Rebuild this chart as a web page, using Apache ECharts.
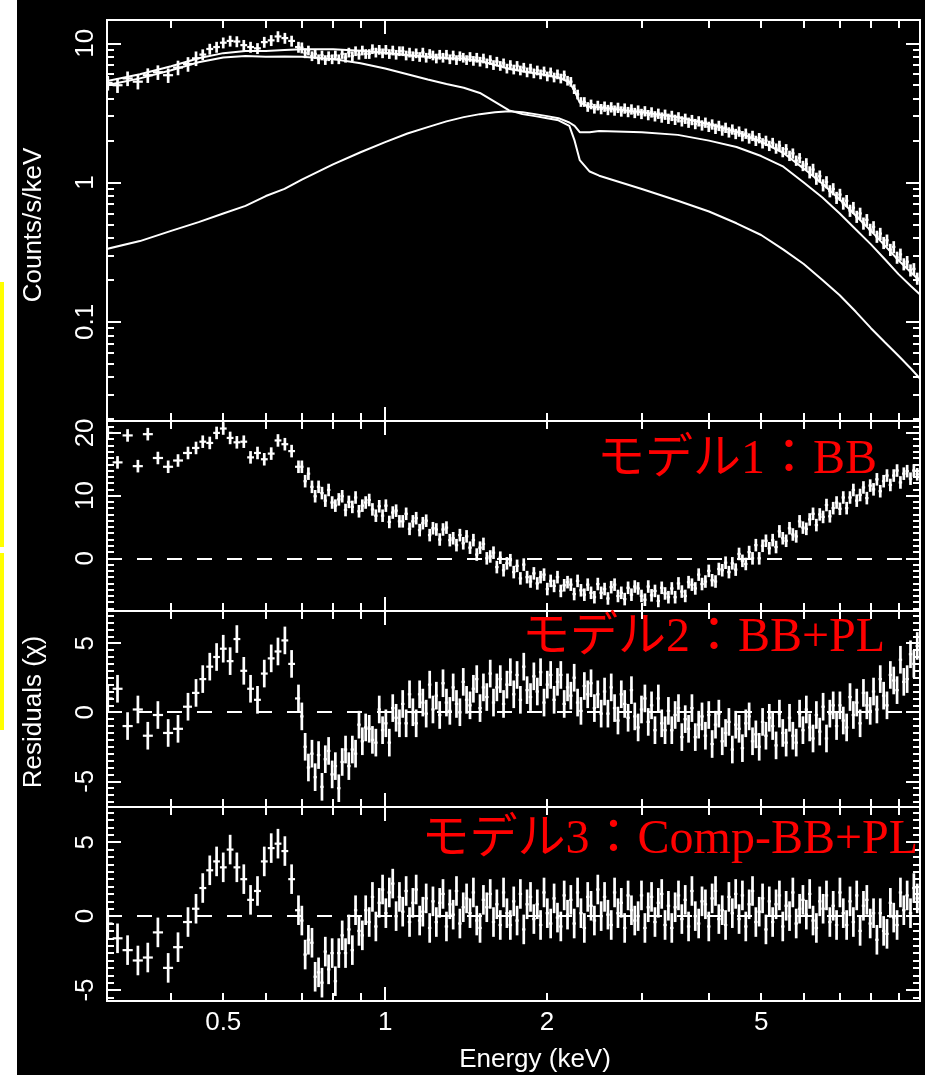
<!DOCTYPE html>
<html>
<head>
<meta charset="utf-8">
<script src="https://cdn.jsdelivr.net/npm/echarts@6/dist/echarts.min.js"></script>
<style>
  html, body { margin: 0; padding: 0; background: #000; }
  #chart { width: 925px; height: 1075px; }
</style>
</head>
<body>
<div id="chart"></div>
<script>
// Spectral bins (keV) shared by the spectrum and the three residual panels
const energy = [
  0.305, 0.318, 0.332, 0.347, 0.362, 0.378, 0.395, 0.412, 0.430, 0.445,
  0.458, 0.472, 0.486, 0.500, 0.515, 0.530, 0.546, 0.562, 0.579, 0.596,
  0.614, 0.632, 0.651, 0.670, 0.690,
  0.700, 0.710, 0.720, 0.731, 0.741, 0.752, 0.763, 0.774, 0.785, 0.797,
  0.808, 0.820, 0.832, 0.844, 0.856, 0.869, 0.881, 0.894, 0.907, 0.920,
  0.934, 0.947, 0.961, 0.975, 0.989, 1.003, 1.018, 1.033, 1.048, 1.063,
  1.078, 1.094, 1.110, 1.126, 1.142, 1.159, 1.175, 1.192, 1.210, 1.227,
  1.245, 1.263, 1.281, 1.300, 1.319, 1.338, 1.357, 1.377, 1.397, 1.417,
  1.438, 1.459, 1.480, 1.501, 1.523, 1.545, 1.568, 1.590, 1.613, 1.637,
  1.660, 1.684, 1.709, 1.734, 1.759, 1.784, 1.810, 1.836, 1.863, 1.890,
  1.918, 1.945, 1.974, 2.002, 2.031, 2.061, 2.091, 2.121, 2.152, 2.183,
  2.214, 2.246, 2.279, 2.312, 2.346, 2.380, 2.414, 2.449, 2.485, 2.521,
  2.558, 2.595, 2.632, 2.670, 2.709, 2.748, 2.788, 2.829, 2.870, 2.911,
  2.953, 2.996, 3.040, 3.084, 3.128, 3.174, 3.220, 3.267, 3.314, 3.362,
  3.411, 3.460, 3.510, 3.561, 3.613, 3.665, 3.718, 3.772, 3.827, 3.882,
  3.939, 3.996, 4.054, 4.113, 4.172, 4.233, 4.294, 4.356, 4.420, 4.484,
  4.549, 4.615, 4.682, 4.750, 4.819, 4.888, 4.959, 5.031, 5.104, 5.178,
  5.253, 5.330, 5.407, 5.485, 5.565, 5.646, 5.727, 5.810, 5.895, 5.980,
  6.067, 6.155, 6.244, 6.334, 6.426, 6.519, 6.614, 6.710, 6.807, 6.906,
  7.006, 7.107, 7.210, 7.315, 7.421, 7.528, 7.638, 7.748, 7.861, 7.975,
  8.090, 8.207, 8.326, 8.447, 8.569, 8.694, 8.820, 8.947, 9.077, 9.209,
  9.342, 9.477, 9.615, 9.754
];

// Observed count rate (counts/s/keV)
const counts = [
  5.2, 5.0, 5.6, 5.3, 5.9, 6.2, 5.9, 6.7, 7.1, 7.8,
  8.3, 9.1, 9.4, 10.1, 10.4, 10.3, 9.7, 9.4, 9.2, 10.2,
  10.5, 11.2, 10.9, 10.4, 9.4,
  9.3, 8.5, 8.9, 8.1, 8.4, 7.7, 8.2, 7.6, 8.1, 7.7,
  8.2, 7.7, 8.4, 7.9, 8.6, 8.1, 8.8, 8.3, 8.9, 8.4,
  8.4, 9.1, 8.6, 9.0, 8.5, 9.0, 8.4, 8.9, 8.3, 8.8,
  8.8, 8.2, 8.6, 8.1, 8.5, 8.0, 8.6, 7.9, 8.4, 8.2,
  7.8, 8.3, 7.9, 8.3, 7.7, 8.2, 7.6, 8.1, 7.9, 7.6,
  8.0, 7.5, 7.9, 7.4, 7.8, 7.2, 7.6, 7.0, 7.4, 6.9,
  7.2, 6.6, 7.0, 6.5, 6.9, 6.4, 6.7, 6.2, 6.6, 6.1,
  6.4, 6.0, 6.3, 5.8, 6.2, 5.7, 6.0, 5.6, 5.9, 5.4,
  5.3, 4.7, 4.3, 3.8, 3.8, 3.5, 3.65, 3.4, 3.58, 3.38,
  3.52, 3.33, 3.48, 3.30, 3.45, 3.25, 3.41, 3.22, 3.36, 3.17,
  3.30, 3.12, 3.26, 3.06, 3.20, 3.00, 3.13, 2.94, 3.08, 2.88,
  3.02, 2.83, 2.95, 2.76, 2.88, 2.70, 2.82, 2.64, 2.76, 2.58,
  2.70, 2.52, 2.62, 2.44, 2.56, 2.37, 2.48, 2.30, 2.41, 2.24,
  2.33, 2.16, 2.25, 2.08, 2.17, 2.00, 2.09, 1.92, 2.00, 1.84,
  1.93, 1.76, 1.84, 1.66, 1.74, 1.56, 1.62, 1.44, 1.50, 1.32,
  1.36, 1.19, 1.24, 1.07, 1.11, 0.96, 1.01, 0.87, 0.90, 0.78,
  0.82, 0.71, 0.74, 0.63, 0.66, 0.57, 0.60, 0.51, 0.54, 0.46,
  0.48, 0.41, 0.43, 0.37, 0.385, 0.33, 0.345, 0.29, 0.305, 0.26,
  0.27, 0.235, 0.24, 0.205
];
// Relative 1-sigma error of the count rate, by energy band [upper edge keV, fraction]
const countsErrBands = [[0.45, 0.12], [0.70, 0.09], [2.5, 0.08], [6.0, 0.085], [10.0, 0.10]];

// Residuals (chi) for the three fitted models
const residBB = [
  20.0, 15.3, 19.6, 14.7, 19.8, 16.0, 14.6, 15.6, 16.8, 17.6,
  18.6, 18.4, 20.0, 20.7, 19.2, 18.5, 18.6, 16.1, 16.8, 15.8,
  16.7, 18.8, 18.2, 17.1, 14.6,
  14.6, 12.3, 13.5, 11.4, 9.9, 11.4, 10.4, 9.2, 10.9, 8.9,
  8.4, 9.4, 9.9, 7.7, 9.0, 8.2, 9.7, 7.5, 8.4, 8.9,
  9.3, 7.8, 6.8, 8.3, 6.8, 8.4, 5.8, 7.3, 7.6, 5.9,
  5.9, 7.1, 4.7, 5.9, 6.4, 4.5, 5.6, 6.0, 3.7, 4.8,
  4.6, 3.0, 4.6, 4.9, 2.9, 3.2, 2.1, 3.7, 2.4, 3.5,
  1.7, 2.9, 0.6, 1.7, 2.3, 0.0, 0.3, 0.9, -1.4, 0.1,
  -1.9, -0.8, -0.3, -2.2, -1.2, -3.2, -1.0, -3.0, -3.7, -2.4,
  -4.0, -3.0, -2.6, -4.9, -3.6, -4.4, -3.0, -5.2, -4.3, -3.8,
  -4.2, -5.7, -3.6, -5.1, -5.8, -4.2, -5.5, -6.2, -4.1, -5.5,
  -4.9, -6.4, -4.6, -4.2, -6.0, -5.5, -6.5, -4.7, -5.8, -4.5,
  -4.8, -6.0, -6.6, -4.5, -5.9, -5.2, -6.8, -4.7, -5.6, -6.2,
  -4.8, -6.2, -4.0, -5.3, -6.0, -3.8, -4.2, -4.8, -2.6, -4.1,
  -3.7, -2.0, -3.5, -3.7, -1.7, -1.9, -0.7, -2.2, -0.8, -1.8,
  0.7, -0.4, -0.9, 1.0, 0.0, 2.1, 0.0, 2.0, 2.8, 1.6,
  2.9, 1.8, 4.3, 3.2, 2.8, 4.8, 3.8, 3.5, 5.9, 4.9,
  4.7, 6.2, 7.1, 5.3, 7.0, 6.6, 8.5, 6.7, 8.0, 8.9,
  7.9, 9.7, 8.0, 9.7, 10.9, 9.2, 10.1, 11.3, 9.6, 11.6,
  11.0, 12.6, 10.7, 12.3, 13.2, 11.7, 13.2, 14.0, 12.1, 13.5,
  13.9, 12.7, 14.0, 13.4
];
const residBBPL = [
  1.0, 1.7, -1.0, 0.2, -1.7, -0.2, -1.5, -1.2, 0.4, 1.4,
  2.4, 3.3, 4.0, 4.6, 3.7, 5.3, 3.0, 1.7, 0.9, 2.8,
  3.9, 4.4, 5.2, 3.5, 1.0,
  -0.3, -2.5, -4.0, -3.0, -4.7, -3.1, -5.4, -3.4, -2.8, -4.5,
  -3.9, -5.5, -3.6, -2.7, -3.9, -2.7, -3.0, -0.9, -2.1, -1.1,
  -1.2, -2.0, -2.2, 0.2, -1.3, -0.8, -2.2, 0.3, -0.4, -0.8,
  0.6, -0.8, 1.3, 0.0, -0.8, 1.3, 0.7, -0.1, 2.0, 0.2,
  1.2, -0.2, 2.1, 0.7, 0.1, 1.8, 0.6, 0.0, 2.2, 0.9,
  0.5, 1.7, 2.4, 0.3, 1.8, 1.1, 2.8, 0.7, 1.8, 2.4,
  0.6, 2.0, 2.9, 1.3, 2.7, 0.9, 3.3, 1.6, 1.1, 2.6,
  1.5, 2.9, 0.7, 2.0, 2.7, 0.9, 2.2, 2.7, 0.6, 1.8,
  1.2, 2.5, 0.7, 0.1, 1.9, 1.3, 2.1, 0.3, 1.3, -0.1,
  1.5, -0.1, 1.8, 0.3, -0.6, 1.3, 0.6, -0.4, 1.6, -0.3,
  -1.1, 0.2, 1.0, -0.7, 0.5, -1.3, 1.0, -0.8, -1.3, 0.1,
  -1.3, -0.2, 0.3, -1.8, -0.5, -1.2, 0.3, -1.8, -0.9, -0.3,
  -1.7, -0.2, -2.3, -0.9, -0.1, -2.1, -1.5, -0.7, -2.7, -0.9,
  -1.2, -2.6, -0.8, -0.3, -2.1, -1.6, -2.5, -0.7, -1.7, -0.4,
  -1.0, -2.4, -0.1, -1.5, -2.2, -0.4, -1.7, -2.2, -0.1, -1.3,
  0.2, -1.1, -1.9, -0.2, -1.4, 0.4, -1.9, -0.1, 0.5, -1.0,
  0.5, -0.6, -1.1, 1.1, -0.2, 0.7, -0.8, 1.4, 0.5, 0.1,
  1.5, 0.2, 2.4, 1.2, 0.5, 2.7, 2.3, 1.6, 3.8, 2.2,
  2.4, 4.2, 3.5, 4.8
];
const residCompBBPL = [
  -0.5, -1.5, -2.3, -3.0, -2.8, -1.1, -3.5, -2.1, -0.4, 0.5,
  1.9, 3.1, 3.7, 3.3, 4.5, 3.3, 2.5, 1.1, 1.7, 3.7,
  4.6, 4.9, 4.4, 2.5, 0.4,
  -0.3, -2.6, -1.6, -1.8, -4.1, -3.8, -4.5, -2.4, -3.6, -2.5,
  -4.4, -2.5, -1.3, -2.5, -0.9, -2.3, 0.4, -1.0, -1.3, 0.4,
  -0.4, 1.3, -0.7, 0.9, 1.8, 0.2, 1.6, 2.2, 0.0, 1.3,
  0.3, 1.7, -0.4, 0.9, 1.8, -0.3, 0.3, 1.2, -0.8, 1.0,
  -0.4, 0.9, 1.5, -0.7, 0.8, 0.1, 1.7, -0.5, 0.6, 1.2,
  0.2, 1.6, -0.3, -0.8, 1.1, 0.6, 1.5, -0.4, 0.8, -0.6,
  1.6, 0.2, -0.6, 1.0, -0.3, 1.5, -0.9, 0.8, 1.3, -0.2,
  0.8, -0.6, 1.6, 0.2, -0.5, 1.2, -0.1, -0.7, 1.4, 0.1,
  1.1, -0.5, 1.6, 0.2, -0.8, 1.3, 0.7, -0.3, 1.8, 0.0,
  1.3, 0.1, -0.6, 1.6, 0.2, 0.9, -0.8, 1.4, 0.4, -0.3,
  0.0, 1.4, -0.8, 0.6, 1.3, -0.4, 0.9, 1.5, -0.6, 0.7,
  -0.8, 0.6, 1.4, -0.2, 1.1, -0.7, 1.7, 0.0, -0.5, 1.0,
  0.8, -0.7, 1.2, 1.7, -0.2, 0.4, -0.6, 1.3, 0.2, 1.5,
  -0.2, 1.4, -0.7, 0.8, 1.7, -0.4, 0.3, 1.2, -0.9, 1.0,
  -0.4, 0.8, 1.4, -0.7, 0.7, 0.0, 1.6, -0.5, 0.5, 1.1,
  0.1, 1.5, -0.3, -0.8, 1.0, 0.5, 1.4, -0.4, 0.7, -0.6,
  1.6, 0.2, -0.6, 1.0, -0.4, 1.4, -1.0, 0.7, 1.1, -0.5,
  0.2, -1.6, 0.2, -1.0, -1.2, 0.9, -0.1, -0.6, 1.6, 0.4,
  1.4, 0.2, 1.9, 1.2
];

// Folded model curves (counts/s/keV): total and the two components
const modelEnergy = [
  0.3, 0.35, 0.4, 0.45, 0.5, 0.55, 0.6, 0.65, 0.7, 0.8,
  0.9, 1.0, 1.1, 1.2, 1.3, 1.4, 1.5, 1.6, 1.7, 1.8,
  1.9, 2.0, 2.1, 2.2, 2.25, 2.3, 2.4, 2.5, 3.0, 3.5,
  4.0, 4.5, 5.0, 5.5, 6.0, 6.5, 7.0, 7.5, 8.0, 8.5,
  9.0, 9.5, 10.0
];
const modelTotal = [
  5.3, 6.0, 6.85, 7.8, 8.5, 8.8, 8.8, 8.95, 9.05, 9.05,
  8.85, 8.55, 8.25, 8.0, 7.85, 7.75, 7.5, 7.0, 6.55, 6.3,
  6.1, 5.9, 5.7, 5.25, 4.55, 3.75, 3.5, 3.47, 3.2, 2.94,
  2.62, 2.31, 1.97, 1.63, 1.26, 0.98, 0.755, 0.578, 0.45, 0.351,
  0.277, 0.226, 0.187
];
const modelSoft = [
  4.95, 5.6, 6.4, 7.3, 7.9, 8.1, 8.0, 8.05, 8.0, 7.7,
  7.2, 6.6, 6.0, 5.5, 5.1, 4.8, 4.4, 3.8, 3.3, 3.1,
  3.0, 2.9, 2.8, 2.55, 2.0, 1.45, 1.2, 1.12, 0.9, 0.74,
  0.62, 0.51, 0.42, 0.33, 0.26, 0.2, 0.155, 0.118, 0.09, 0.071,
  0.057, 0.046, 0.037
];
const modelHard = [
  0.33, 0.38, 0.45, 0.52, 0.6, 0.68, 0.8, 0.9, 1.05, 1.35,
  1.65, 1.95, 2.25, 2.5, 2.75, 2.95, 3.1, 3.2, 3.25, 3.2,
  3.1, 3.0, 2.9, 2.7, 2.55, 2.3, 2.3, 2.35, 2.3, 2.2,
  2.0, 1.8, 1.55, 1.3, 1.0, 0.78, 0.6, 0.46, 0.36, 0.28,
  0.22, 0.18, 0.15
];

// Axis ticks and labels
const xLabelValues = [0.5, 1, 2, 5];
const xMajorTicks = [1];
const xMinorTicks = [0.4, 0.5, 0.6, 0.7, 0.8, 0.9, 2, 3, 4, 5, 6, 7, 8, 9];
const countMajorTicks = [0.1, 1, 10];
const countMinorTicks = [0.02, 0.03, 0.04, 0.05, 0.06, 0.07, 0.08, 0.09,
                         0.2, 0.3, 0.4, 0.5, 0.6, 0.7, 0.8, 0.9,
                         2, 3, 4, 5, 6, 7, 8, 9];
const residMajorTicks = [[0, 10, 20], [-5, 0, 5], [-5, 0, 5]];
const panelTitles = ['モデル1：BB', 'モデル2：BB+PL', 'モデル3：Comp-BB+PL'];

const X_MIN = 0.304, X_MAX = 9.87;
const WHITE = '#ffffff';
const AXIS_FONT = 'Liberation Sans';

const panels = [
  { top: 20,  height: 401, type: 'log',   min: 0.0194, max: 14.7, major: countMajorTicks, minor: countMinorTicks },
  { top: 421, height: 190, type: 'value', min: -8.4,   max: 21.9, major: residMajorTicks[0], step: 1 },
  { top: 611, height: 196, type: 'value', min: -6.86,  max: 7.33, major: residMajorTicks[1], step: 0.5 },
  { top: 807, height: 194, type: 'value', min: -5.74,  max: 7.38, major: residMajorTicks[2], step: 0.5 }
];

function minorResidTicks(p) {
  const out = [];
  for (let v = Math.ceil(p.min / p.step) * p.step; v <= p.max; v += p.step) {
    const r = Math.round(v * 10) / 10;
    if (p.major.indexOf(r) < 0) out.push(r);
  }
  return out;
}

const grids = [], xAxes = [], yAxes = [];
panels.forEach((p, g) => {
  grids.push({ left: 107, right: 5, top: p.top, height: p.height, containLabel: false });

  ['bottom', 'top'].forEach(pos => {
    [[xMinorTicks, 8], [xMajorTicks, 14]].forEach(([vals, len], k) => {
      const labelled = g === 3 && pos === 'bottom' && k === 0;
      xAxes.push({
        type: 'log', logBase: 10, gridIndex: g, position: pos, min: X_MIN, max: X_MAX,
        axisLine: { show: true, onZero: false, lineStyle: { color: WHITE, width: 2 } },
        axisTick: { show: true, inside: true, length: len, customValues: vals, lineStyle: { color: WHITE, width: 2 } },
        axisLabel: labelled ? {
          show: true, customValues: xLabelValues, color: WHITE, fontSize: 26,
          fontFamily: AXIS_FONT, margin: 9, formatter: v => String(v)
        } : { show: false },
        splitLine: { show: false }, minorTick: { show: false }, minorSplitLine: { show: false },
        axisPointer: { show: false }
      });
    });
  });

  const minorVals = p.type === 'log' ? p.minor : minorResidTicks(p);
  ['left', 'right'].forEach(pos => {
    [[minorVals, 7], [p.major, 14]].forEach(([vals, len], k) => {
      const labelled = pos === 'left' && k === 1;
      const ax = {
        type: p.type, gridIndex: g, position: pos, min: p.min, max: p.max,
        axisLine: { show: true, onZero: false, lineStyle: { color: WHITE, width: 2 } },
        axisTick: { show: true, inside: true, length: len, customValues: vals, lineStyle: { color: WHITE, width: 2 } },
        axisLabel: labelled ? {
          show: true, customValues: p.major, color: WHITE, fontSize: 26, rotate: 90,
          fontFamily: AXIS_FONT, margin: 8, formatter: v => String(v)
        } : { show: false },
        splitLine: { show: false }, minorTick: { show: false }, minorSplitLine: { show: false },
        axisPointer: { show: false }
      };
      if (p.type === 'log') ax.logBase = 10;
      yAxes.push(ax);
    });
  });
});

function countsRelErr(e) {
  for (const [edge, frac] of countsErrBands) if (e <= edge) return frac;
  return countsErrBands[countsErrBands.length - 1][1];
}

// Geometric bin edges around each energy bin
function binEdges(i) {
  const e = energy[i];
  const lo = i > 0 ? Math.sqrt(energy[i - 1] * e) : e * e / Math.sqrt(e * energy[i + 1]);
  const hi = i < energy.length - 1 ? Math.sqrt(e * energy[i + 1]) : e * e / Math.sqrt(energy[i - 1] * e);
  return [lo, hi];
}

// Data point: horizontal bin-width bar plus vertical error bar
function errorBarItem(params, api) {
  const i = params.dataIndex;
  const [lo, hi] = binEdges(i);
  const e = api.value(0), v = api.value(1), vLo = api.value(2), vHi = api.value(3);
  const pL = api.coord([lo, v]), pR = api.coord([hi, v]);
  const pT = api.coord([e, vHi]), pB = api.coord([e, vLo]);
  return {
    type: 'group',
    children: [
      { type: 'line', shape: { x1: pL[0], y1: pL[1], x2: pR[0], y2: pR[1] }, style: { stroke: WHITE, lineWidth: 2.2 } },
      { type: 'line', shape: { x1: pT[0], y1: pT[1], x2: pB[0], y2: pB[1] }, style: { stroke: WHITE, lineWidth: 2.7 } }
    ]
  };
}

const series = [];

// Spectrum panel
series.push({
  type: 'custom', name: 'data', xAxisIndex: 0, yAxisIndex: 0, clip: true, z: 3,
  renderItem: errorBarItem,
  data: energy.map((e, i) => {
    const r = countsRelErr(e);
    return [e, counts[i], counts[i] * (1 - r), counts[i] * (1 + r)];
  })
});
[modelTotal, modelSoft, modelHard].forEach((arr, k) => {
  series.push({
    type: 'line', name: 'model' + k, xAxisIndex: 0, yAxisIndex: 0, z: 2,
    showSymbol: false, symbol: 'none', silent: true, clip: true,
    lineStyle: { color: WHITE, width: 2 },
    data: modelEnergy.map((e, i) => [e, arr[i]])
  });
});

// Residual panels (chi residuals carry unit error bars)
[residBB, residBBPL, residCompBBPL].forEach((res, k) => {
  const g = k + 1;
  series.push({
    type: 'custom', name: 'resid' + g, xAxisIndex: g * 4, yAxisIndex: g * 4, clip: true, z: 3,
    renderItem: errorBarItem,
    data: energy.map((e, i) => [e, res[i], res[i] - 1, res[i] + 1]),
    markLine: {
      silent: true, symbol: 'none', z: 1,
      label: { show: false },
      lineStyle: { color: WHITE, width: 2, type: [15, 15] },
      data: [{ yAxis: 0 }]
    }
  });
});

const labelFont = '26px "Liberation Sans", Arial, sans-serif';
const redFont = '48px "Liberation Serif", "Noto Sans CJK JP", serif';
function txt(text, x, y, opts) {
  return Object.assign({
    type: 'text', x: x, y: y, z: 100,
    style: Object.assign({
      text: text, fill: WHITE, font: labelFont,
      align: 'center', verticalAlign: 'middle',
      textAlign: 'center', textVerticalAlign: 'middle'
    }, opts && opts.style)
  }, opts && opts.el);
}

const graphic = [
  { type: 'rect', z: 50, shape: { x: 0, y: 0, width: 17, height: 1075 }, style: { fill: '#ffffff' } },
  { type: 'rect', z: 51, shape: { x: 0, y: 282, width: 4, height: 265 }, style: { fill: '#ffff00' } },
  { type: 'rect', z: 51, shape: { x: 0, y: 553, width: 4, height: 177 }, style: { fill: '#ffff00' } },
  txt('Counts/s/keV', 34, 225, { el: { rotation: Math.PI / 2 } }),
  txt('Residuals (χ)', 34, 712, { el: { rotation: Math.PI / 2 } }),
  txt('Energy (keV)', 535, 1060),
  txt(panelTitles[0], 877, 460, { style: { font: redFont, fill: '#ff0000', align: 'right', textAlign: 'right' } }),
  txt(panelTitles[1], 885, 638, { style: { font: redFont, fill: '#ff0000', align: 'right', textAlign: 'right' } }),
  txt(panelTitles[2], 918, 840, { style: { font: redFont, fill: '#ff0000', align: 'right', textAlign: 'right' } })
];

const chart = echarts.init(document.getElementById('chart'), null, { renderer: 'canvas' });
chart.setOption({
  backgroundColor: '#000000',
  animation: false,
  grid: grids,
  xAxis: xAxes,
  yAxis: yAxes,
  series: series,
  graphic: graphic
});
</script>
</body>
</html>
